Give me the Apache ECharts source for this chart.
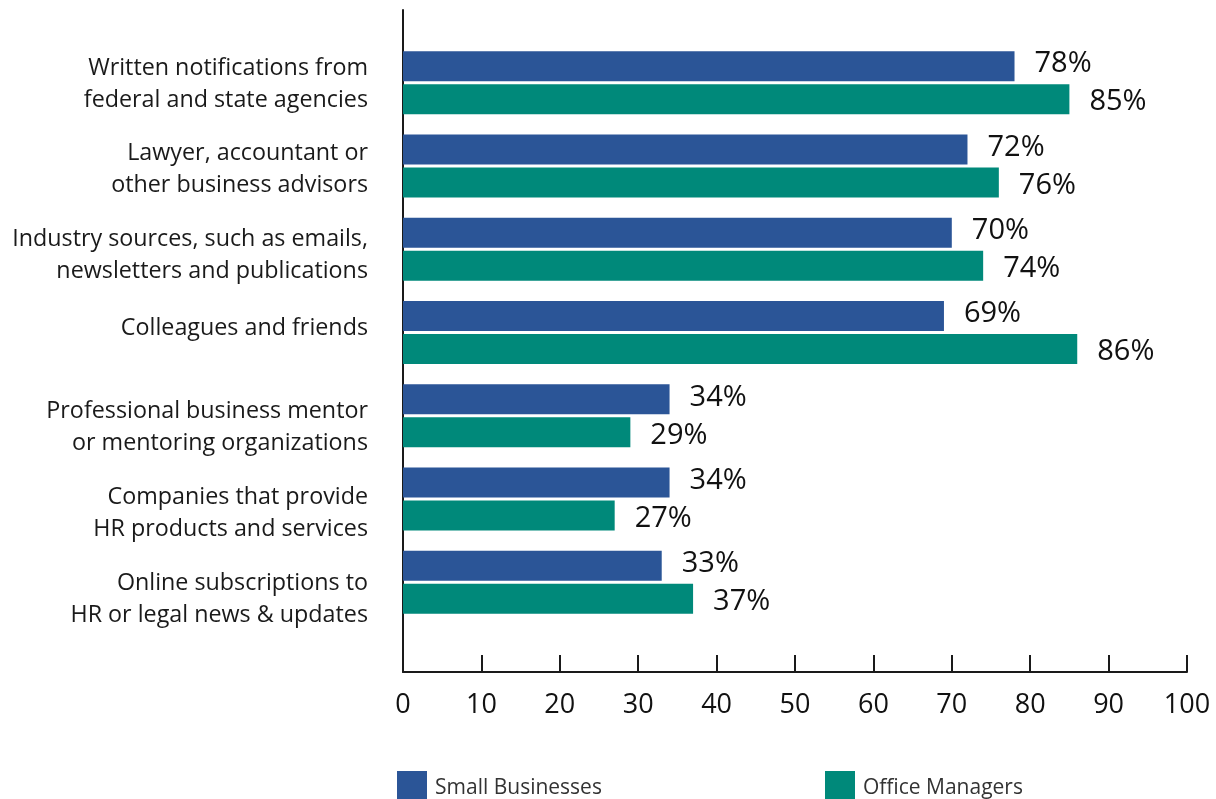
<!DOCTYPE html>
<html>
<head>
<meta charset="utf-8">
<script src="https://cdn.jsdelivr.net/npm/echarts@6/dist/echarts.min.js"></script>
<style>
  html, body { margin: 0; padding: 0; background: #fff; }
  #chart { width: 1216px; height: 799px; }
</style>
</head>
<body>
<div id="chart"></div>
<script>
// Sources used to stay informed about HR and legal changes
const categories = [
  'Written notifications from\nfederal and state agencies',
  'Lawyer, accountant or\nother business advisors',
  'Industry sources, such as emails,\nnewsletters and publications',
  'Colleagues and friends',
  'Professional business mentor\nor mentoring organizations',
  'Companies that provide\nHR products and services',
  'Online subscriptions to\nHR or legal news & updates'
];
const smallBusinesses = [78, 72, 70, 69, 34, 34, 33];
const officeManagers = [85, 76, 74, 86, 29, 27, 37];
const xTicks = { min: 0, max: 100, interval: 10 };

const FONT = '"Open Sans", "Noto Sans", sans-serif';
const AXIS_COLOR = '#1a1a1a';
const BLUE = '#2b5597';
const GREEN = '#00897a';

const chart = echarts.init(document.getElementById('chart'), null, { renderer: 'canvas' });

const valueLabel = (dy) => ({
  show: true,
  position: 'right',
  distance: 20,
  offset: [0, dy],
  formatter: '{c}%',
  fontFamily: FONT,
  fontSize: 29,
  color: '#111'
});

const legendBase = {
  top: 771,
  padding: 0,
  itemWidth: 30, itemHeight: 34,
  icon: 'rect',
  textStyle: { fontFamily: FONT, fontSize: 21, color: '#333', padding: [0, 0, 0, 3] }
};

// two-line labels fill their slot; a single-line label sits near the upper line
const categoryLabel = (v) => v.indexOf('\n') >= 0
  ? v.split('\n').map((s) => '{m|' + s + '}').join('\n')
  : '{s|' + v + '}';

const hiddenX = (gridIndex) => ({ gridIndex, type: 'value', min: 0, max: 100, show: false });

chart.setOption({
  animation: false,
  backgroundColor: '#fff',
  textStyle: { fontFamily: FONT },
  legend: [
    Object.assign({ data: ['Small Businesses'], left: 397 }, legendBase),
    Object.assign({ data: ['Office Managers'], left: 825 }, legendBase)
  ],
  grid: [
    // bars
    { left: 403, right: 29, top: 41, height: 583, containLabel: false },
    // full-height vertical axis line
    { left: 403, right: 29, top: 10, bottom: 127, containLabel: false },
    // category label column (slightly wider spacing than the bars)
    { left: 403, right: 29, top: 38, height: 601, containLabel: false }
  ],
  xAxis: [
    {
      gridIndex: 0,
      type: 'value',
      min: xTicks.min, max: xTicks.max, interval: xTicks.interval,
      position: 'bottom',
      offset: 48,
      axisLine: { show: true, lineStyle: { color: AXIS_COLOR, width: 2 } },
      axisTick: { show: true, inside: true, length: 17, lineStyle: { color: AXIS_COLOR, width: 2 } },
      axisLabel: { fontFamily: FONT, fontSize: 27, color: '#111', margin: 20 },
      splitLine: { show: false }
    },
    hiddenX(1),
    hiddenX(2)
  ],
  yAxis: [
    {
      gridIndex: 0,
      type: 'category',
      data: categories,
      inverse: true,
      axisLine: { show: false },
      axisTick: { show: false },
      axisLabel: { show: false },
      splitLine: { show: false }
    },
    {
      gridIndex: 1,
      type: 'value', min: 0, max: 1,
      axisLine: { show: true, onZero: false, lineStyle: { color: AXIS_COLOR, width: 2 } },
      axisTick: { show: false },
      axisLabel: { show: false },
      splitLine: { show: false }
    },
    {
      gridIndex: 2,
      type: 'category',
      data: categories,
      inverse: true,
      axisLine: { show: false },
      axisTick: { show: false },
      splitLine: { show: false },
      axisLabel: {
        fontFamily: FONT, fontSize: 23.3, color: '#1a1a1a',
        margin: 35, align: 'right',
        formatter: categoryLabel,
        rich: {
          m: { fontFamily: FONT, fontSize: 23.3, color: '#1a1a1a', lineHeight: 32, padding: [6, 0, 0, 0] },
          s: { fontFamily: FONT, fontSize: 23.3, color: '#1a1a1a', lineHeight: 32, padding: [0, 0, 20, 0] }
        }
      }
    }
  ],
  series: [
    {
      name: 'Small Businesses',
      type: 'bar',
      xAxisIndex: 0, yAxisIndex: 0,
      data: smallBusinesses,
      barWidth: 30,
      barGap: '10%',
      itemStyle: { color: BLUE },
      label: valueLabel(-2)
    },
    {
      name: 'Office Managers',
      type: 'bar',
      xAxisIndex: 0, yAxisIndex: 0,
      data: officeManagers,
      barWidth: 30,
      barGap: '10%',
      itemStyle: { color: GREEN },
      label: valueLabel(3)
    }
  ]
});
</script>
</body>
</html>
